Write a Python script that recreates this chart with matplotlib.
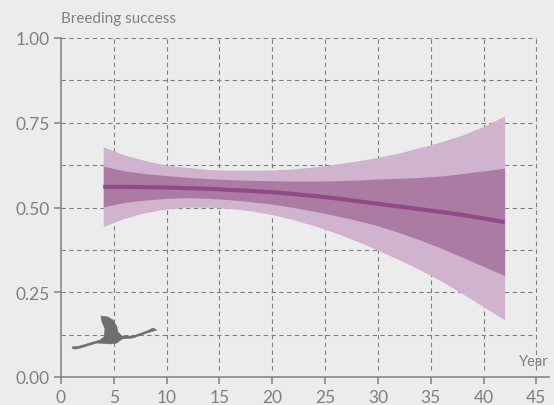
import matplotlib
matplotlib.use("Agg")
import matplotlib.pyplot as plt
from matplotlib.patches import Polygon

plt.rcParams['font.family'] = ['Lato', 'DejaVu Sans']

years = [4, 6, 8, 10, 12, 14, 16, 18, 20, 22, 24, 26, 28, 30, 32, 34, 36, 38, 40, 42]
mean = [.561, .561, .560, .559, .557, .555, .552, .549, .545, .540, .534, .527, .519, .511, .503, .495, .487, .478, .468, .457]
outer_hi = [.679, .655, .638, .625, .618, .612, .610, .610, .611, .614, .620, .628, .637, .648, .661, .677, .694, .714, .739, .770]
outer_lo = [.444, .468, .485, .496, .501, .501, .497, .490, .479, .464, .446, .425, .401, .374, .346, .316, .283, .246, .207, .169]
inner_hi = [.622, .608, .600, .594, .589, .585, .582, .580, .579, .578, .578, .579, .581, .584, .586, .589, .593, .600, .608, .616]
inner_lo = [.502, .515, .522, .527, .529, .527, .523, .517, .510, .500, .489, .476, .462, .446, .426, .404, .380, .353, .326, .299]

xticks = [0, 5, 10, 15, 20, 25, 30, 35, 40, 45]
yticks = [0, .25, .5, .75, 1]
ytick_labels = ['0.00', '0.25', '0.50', '0.75', '1.00']
ygrid = [.125, .25, .375, .5, .625, .75, .875, 1]

bg = '#ececec'
grey = '#808080'
grid_grey = '#7f7f7f'

fig = plt.figure(figsize=(5.54, 4.06), dpi=100, facecolor=bg)
ax = fig.add_axes([61/554, 1 - 378/406, (549 - 61)/554, (378 - 39)/406], facecolor=bg)
ax.set_xlim(0, 46.2)
ax.set_ylim(0, 1)

# dashed grid, stops at 45 rather than the end of the axis
ax.hlines(ygrid, 0, 45, color=grid_grey, lw=0.8, ls=(0, (4, 3)), zorder=1)
ax.vlines(xticks[1:], 0.02, 1, color=grid_grey, lw=0.8, ls=(0, (4, 3)), zorder=1)

ax.fill_between(years, outer_lo, outer_hi, color='#cfb3cf', lw=0, zorder=2)
ax.fill_between(years, inner_lo, inner_hi, color='#ab7ba3', lw=0, zorder=3)
ax.plot(years, mean, color='#8f4a87', lw=3, solid_capstyle='butt', zorder=4)

for s in ['top', 'right']:
    ax.spines[s].set_visible(False)
for s in ['left', 'bottom']:
    ax.spines[s].set_color(grey)
    ax.spines[s].set_linewidth(1.1)
ax.set_xticks(xticks)
ax.set_yticks(yticks)
ax.set_yticklabels(ytick_labels)
ax.tick_params(axis='both', color=grey, labelcolor=grey, labelsize=12.5, length=5, width=1.1, pad=3)
ax.tick_params(axis='x', pad=3.5)

fig.text(61/554, 1 - 19/406, 'Breeding success', color=grey, fontsize=11, va='center', ha='left')
fig.text(534/554, 1 - 362/406, 'Year', color=grey, fontsize=10.5, va='center', ha='center')

# flamingo silhouette, pixel coordinates of the picture
bird = [(72, 348), (80, 347), (90, 344), (100, 341), (104, 338), (105, 330), (102, 323), (101, 317),
        (108, 318), (113, 321), (117, 328), (118, 333), (122, 337), (133, 337), (147, 332), (153, 329),
        (157, 331), (147, 334), (133, 339), (122, 340), (117, 344), (110, 345), (97, 344), (87, 347),
        (77, 350), (73, 350)]
fig.add_artist(Polygon([(px/554, 1 - py/406) for px, py in bird], closed=True, transform=fig.transFigure,
                       facecolor='#6f6f6f', edgecolor='#6f6f6f', lw=0.4, zorder=5))

fig.savefig('out.png', dpi=100, facecolor=bg)
